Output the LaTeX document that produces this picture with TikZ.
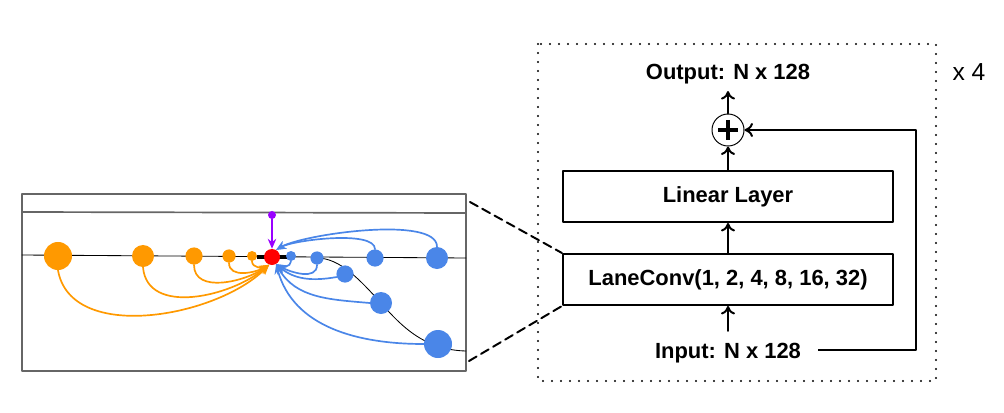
\documentclass[tikz,border=0pt]{standalone}
\usepackage{fontspec}
\setmainfont{Liberation Sans}
\usetikzlibrary{arrows.meta,positioning}
\definecolor{laneorange}{HTML}{FF9900}
\definecolor{laneblue}{HTML}{4A86E8}
\definecolor{lanepurple}{HTML}{9900FF}
\definecolor{panelgray}{HTML}{666666}

\tikzset{
  orangenode/.style={circle,fill=laneorange,inner sep=0pt,minimum size=#1},
  bluenode/.style={circle,fill=laneblue,inner sep=0pt,minimum size=#1},
  layerbox/.style={draw,line width=1.4pt,minimum width=8.25cm,minimum height=1.275cm,font=\fontsize{15.6}{18}\selectfont\bfseries},
  iotext/.style={font=\fontsize{15.6}{18}\selectfont\bfseries,text height=0.4cm,text depth=0pt,inner ysep=0.27cm,inner xsep=0.43cm},
  orangearc/.style={laneorange,line width=1.2pt,-{Stealth[length=7pt,width=6pt]}},
  bluearc/.style={laneblue,line width=1.2pt,-{Stealth[length=7pt,width=6pt]}},
  flow/.style={line width=1.4pt,-{To[length=6pt,width=10pt]}},
}

\begin{document}
\begin{tikzpicture}[line cap=round,line join=round,x=0.025cm,y=-0.025cm]
\useasboundingbox (0,0) rectangle (1004,413);

% left panel
\node[draw=panelgray,line width=1.5pt,minimum width=11.1cm,minimum height=4.425cm,inner sep=0pt] (panel) at (244,282.5) {};
\draw[panelgray,line width=1.2pt] (22,212) -- (466,213);
\draw[line width=0.6pt] (22,255) -- (466,258);
\draw[line width=0.6pt] (317,258) .. controls (340,258) and (360,280) .. (381,303)
  .. controls (402,327) and (425,350) .. (466,351);
\draw[line width=2.8pt,line cap=butt] (257,257) -- (287,257);

\node[orangenode=0.7cm] (o1) at (58,256) {};
\node[orangenode=0.55cm] (o2) at (143,256) {};
\node[orangenode=0.43cm] (o3) at (194,256) {};
\node[orangenode=0.33cm] (o4) at (229,256) {};
\node[orangenode=0.25cm] (o5) at (252,256) {};
\node[circle,fill=red,inner sep=0pt,minimum size=0.4cm] (red) at (272,257) {};
\node[bluenode=0.25cm] (b1) at (291,256) {};
\node[bluenode=0.33cm] (b2) at (317,258) {};
\node[bluenode=0.43cm] (b3) at (375,258) {};
\node[bluenode=0.55cm] (b4) at (437,258) {};
\node[bluenode=0.43cm] (b5) at (345,274) {};
\node[bluenode=0.55cm] (b6) at (381,303) {};
\node[bluenode=0.7cm] (b7) at (438,344) {};
\node[circle,fill=lanepurple,inner sep=0pt,minimum size=0.2cm] (agent) at (272,215) {};

\draw[orangearc] (o1.south) to[out=-80,in=225,looseness=0.9] (red.250);
\draw[orangearc] (o2.south) to[out=-85,in=220] (red.250);
\draw[orangearc] (o3.south) to[out=-90,in=215] (red.250);
\draw[orangearc] (o4.south) to[out=-90,in=210] (red.250);
\draw[orangearc] (o5.south) to[out=-90,in=210] (red.250);
\draw[bluearc] (b4.north) to[out=90,in=30,looseness=0.5] (red.60);
\draw[bluearc] (b3.north) to[out=90,in=30,looseness=0.5] (red.60);
\draw[bluearc] (b1.south) to[out=-90,in=-30] (red.-60);
\draw[bluearc] (b2.south) to[out=-90,in=-30] (red.-60);
\draw[bluearc] (b5.200) to[out=190,in=-40] (red.-60);
\draw[bluearc] (b6.west) to[out=175,in=-60] (red.-60);
\draw[bluearc] (b7.west) to[out=180,in=-75] (red.-60);
\draw[lanepurple,line width=1.2pt,-{Stealth[length=7pt,width=6pt]}] (agent) -- (red);

% right block
\draw[line width=1.6pt,dash pattern=on 0pt off 6.4pt] (538,44) rectangle (936,381);
\node[layerbox] (conv) at (728,279.5) {LaneConv(1, 2, 4, 8, 16, 32)};
\node[layerbox] (linear) at (728,196.5) {Linear Layer};
\node[circle,draw,line width=0.7pt,minimum size=0.8cm,inner sep=0pt] (plus) at (728,130) {};
\draw[line width=2.8pt,line cap=butt] (718,130) -- (738,130) (728,120) -- (728,140);
\node[iotext] (output) at (728,72) {Output: N x 128};
\node[iotext] (input) at (728,350) {Input: N x 128};
\node[font=\fontsize{17.5}{20}\selectfont] (repeat) at (969,72) {x 4};
\coordinate (skip) at (916,350);

\draw[flow] (input) -- (conv);
\draw[flow] (conv) -- (linear);
\draw[flow] (linear) -- (plus);
\draw[flow] (plus) -- (output);
\draw[flow,line cap=butt] (input.east) -- (skip) |- (plus.east);

% zoom lines
\coordinate (zoomtop) at (470,202);
\coordinate (zoombot) at (469,361);
\draw[line width=1.4pt,dash pattern=on 0.22cm off 0.13cm] (zoomtop) -- (conv.north west);
\draw[line width=1.4pt,dash pattern=on 0.22cm off 0.13cm] (zoombot) -- (conv.south west);
\end{tikzpicture}
\end{document}
